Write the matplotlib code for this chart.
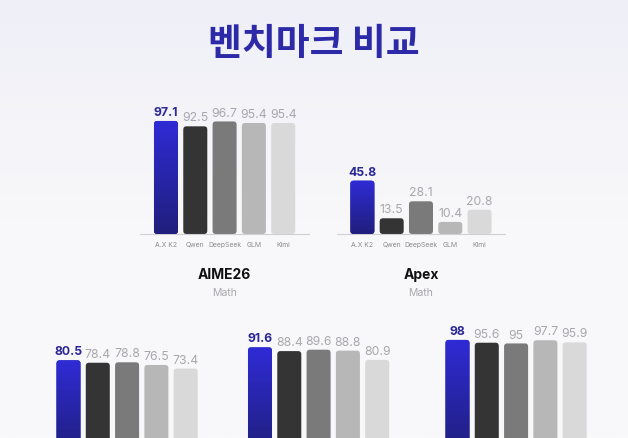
import numpy as np
import matplotlib
matplotlib.use('Agg')
import matplotlib.pyplot as plt
from matplotlib.patches import FancyBboxPatch
from matplotlib.colors import LinearSegmentedColormap

plt.rcParams['font.family'] = ['Inter', 'Noto Sans CJK KR', 'DejaVu Sans']

# --- данные ---
models = ['A.X K2', 'Qwen', 'DeepSeek', 'GLM', 'Kimi']
aime26 = [97.1, 92.5, 96.7, 95.4, 95.4]
apex = [45.8, 13.5, 28.1, 10.4, 20.8]
bench3 = [80.5, 78.4, 78.8, 76.5, 73.4]
bench4 = [91.6, 88.4, 89.6, 88.8, 80.9]
bench5 = [98, 95.6, 95, 97.7, 95.9]

title = '벤치마크 비교'
bar_colors = ['#2a27b8', '#343434', '#7a7a7a', '#b7b7b7', '#d9d9d9']
blue_cmap = LinearSegmentedColormap.from_list('bl', ['#201f7c', '#2f2bd6'])

W, H = 628, 439
fig = plt.figure(figsize=(W / 100, H / 100), dpi=100)

# фон с лёгким градиентом
bg = fig.add_axes([0, 0, 1, 1])
grad = np.linspace(0, 1, 256).reshape(-1, 1)
bg.imshow(grad, aspect='auto', extent=[0, 1, 0, 1], origin='lower',
          cmap=LinearSegmentedColormap.from_list('bg', ['#f9f9fb', '#f8f8fa', '#efeff8']))
bg.set_axis_off()

fig.text(0.5, 1 - 45 / H, title, ha='center', va='center', fontsize=26.5,
         fontweight='bold', color='#2c2aa8', family=['Noto Sans CJK KR'])

PX_PER_UNIT = 1.164
SPACING = 29.3
XL, XR = -0.88, 4.88


def group(left_px, base_px, values, name=None, sub=None, ticks=True):
    """Одна группа столбцов в пиксельной раскладке"""
    w_px = (XR - XL) * SPACING
    h_px = 100 * PX_PER_UNIT
    ax = fig.add_axes([left_px / W, (H - base_px) / H, w_px / W, h_px / H])
    ax.set_xlim(XL, XR)
    ax.set_ylim(0, 100)
    ax.patch.set_alpha(0)
    for s in ['top', 'right', 'left']:
        ax.spines[s].set_visible(False)
    ax.spines['bottom'].set_color('#d0d0d4')
    ax.spines['bottom'].set_linewidth(0.8)
    ax.set_yticks([])
    x = np.arange(len(values))
    ax.set_xticks(x)
    if ticks:
        ax.set_xticklabels(models, fontsize=4.9, color='#8a8a8a')
    else:
        ax.set_xticklabels([])
    ax.tick_params(axis='x', length=0, pad=5)

    bars = ax.bar(x, values, width=0.82, color=bar_colors)
    aspect = (1 / PX_PER_UNIT) / (1 / SPACING)
    for i, b in enumerate(bars):
        b.set_visible(False)
        p = FancyBboxPatch((b.get_x(), 0), b.get_width(), b.get_height(),
                           boxstyle='round,pad=0,rounding_size=0.11',
                           mutation_aspect=aspect, fc=bar_colors[i], ec='none')
        ax.add_patch(p)
        if i == 0:
            # градиент для первого столбца
            im = ax.imshow(grad, aspect='auto', origin='lower', cmap=blue_cmap,
                           extent=[b.get_x(), b.get_x() + b.get_width(), 0, b.get_height()],
                           zorder=3)
            im.set_clip_path(p)
        v = values[i]
        lbl = f'{v:g}'
        if i == 0:
            ax.text(x[i], v + 2.5, lbl, ha='center', va='bottom', fontsize=8.8,
                    fontweight='bold', color='#2b2896', clip_on=False)
        else:
            ax.text(x[i], v + 2.5, lbl, ha='center', va='bottom', fontsize=8.8,
                    color='#a8a8ac', clip_on=False)
    ax.set_xlim(XL, XR)
    ax.set_ylim(0, 100)

    if name:
        cx = (left_px + w_px / 2) / W
        fig.text(cx, 1 - 275 / H, name, ha='center', va='center', fontsize=10,
                 fontweight='bold', color='#111111')
        fig.text(cx, 1 - 293 / H, sub, ha='center', va='center', fontsize=7.5,
                 color='#a8a8ac')
    return ax


group(140.2, 235, aime26, 'AIME26', 'Math')
group(336.6, 235, apex, 'Apex', 'Math')
group(42.7, 455, bench3, ticks=False)
group(234.2, 455, bench4, ticks=False)
group(431.7, 455, bench5, ticks=False)

fig.savefig('out.png', dpi=100)
